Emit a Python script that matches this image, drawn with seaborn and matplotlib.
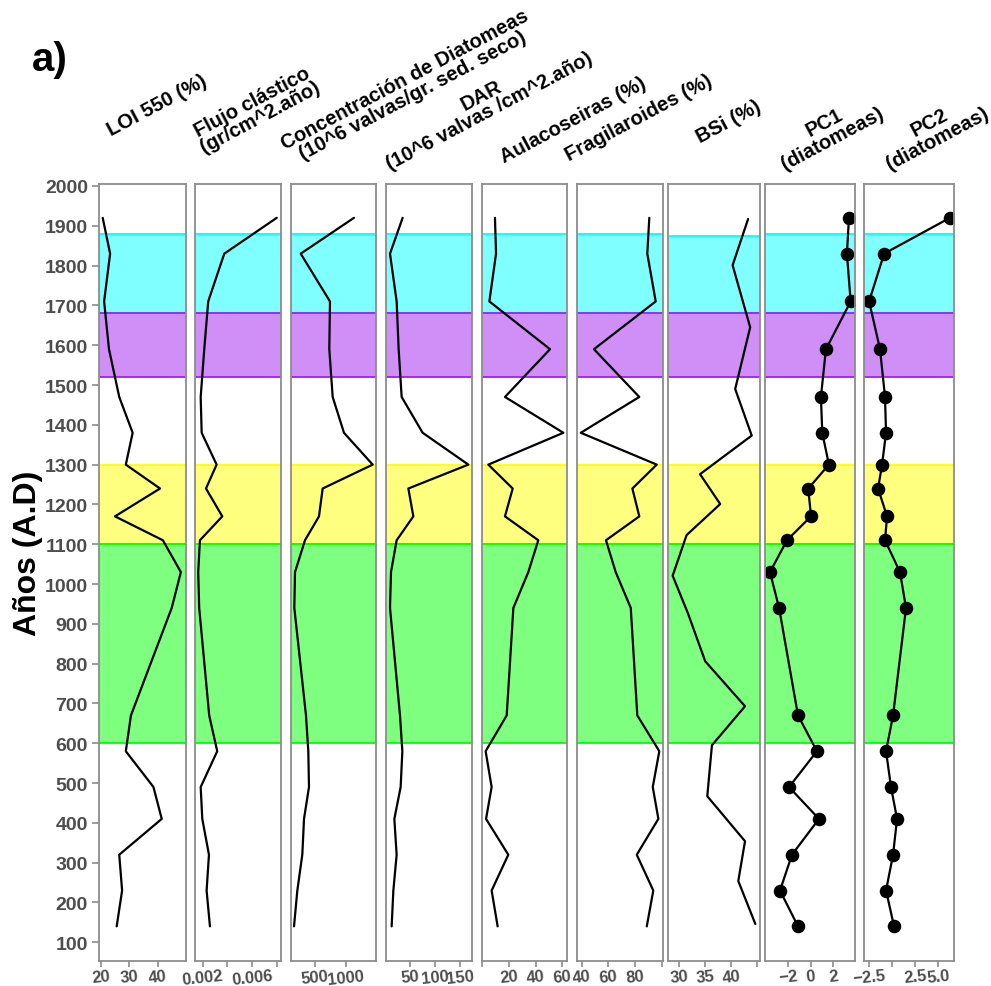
import matplotlib
matplotlib.use("Agg")
import matplotlib.pyplot as plt
import seaborn as sns

sns.set_theme(style="white")
plt.rcParams["font.family"] = ["Liberation Sans", "DejaVu Sans"]

# ---- data (years A.D. of each sample) ----
years = [1920, 1830, 1710, 1590, 1470, 1380, 1300, 1240, 1170, 1110,
         1030, 940, 670, 580, 490, 410, 320, 230, 140]

loi = [20.7, 23.3, 21.2, 22.9, 26.5, 31.2, 28.8, 40.8, 25.0, 41.8,
       48.1, 44.9, 30.6, 28.8, 38.5, 41.4, 26.5, 27.5, 25.6]
flujo = [0.0080, 0.00375, 0.00245, 0.00213, 0.00184, 0.00192, 0.00313, 0.00227,
         0.00359, 0.00178, 0.00164, 0.00172, 0.00253, 0.00318, 0.00184, 0.00197,
         0.00251, 0.00232, 0.00259]
conc = [1135, 267, 744, 733, 788, 972, 1440, 625, 565, 337,
        174, 163, 353, 391, 402, 321, 293, 212, 158]
dar = [35.3, 10.0, 23.3, 27.3, 33.3, 75.3, 166.7, 46.7, 56.7, 23.3,
       12.0, 10.0, 30.0, 34.7, 31.3, 18.7, 23.3, 16.7, 13.3]
aula = [9.5, 10.3, 5.3, 50.8, 17.0, 60.8, 4.5, 22.8, 17.0, 42.0,
        34.5, 23.3, 18.3, 2.5, 7.0, 2.8, 19.5, 7.0, 11.5]
frag = [90.7, 89.2, 95.5, 49.2, 83.2, 39.3, 96.3, 78.0, 83.2, 58.2,
        65.5, 76.8, 81.7, 98.2, 93.3, 97.5, 81.3, 93.7, 88.8]
pc1 = [3.36, 3.18, 3.51, 1.34, 0.90, 1.02, 1.60, -0.21, 0.03, -2.08,
       -3.57, -2.77, -1.11, 0.55, -1.90, 0.73, -1.64, -2.69, -1.11]
pc2 = [6.26, -0.86, -2.48, -1.30, -0.76, -0.65, -1.08, -1.51, -0.54, -0.76,
       0.86, 1.51, 0.11, -0.65, -0.11, 0.54, 0.11, -0.65, 0.22]

bsi_years = [1917, 1801, 1645, 1490, 1373, 1276, 1201, 1123, 1021,
             925, 806, 693, 595, 467, 354, 254, 146]
bsi = [43.3, 40.3, 43.7, 40.8, 44.0, 34.0, 37.9, 31.4, 28.7,
       31.7, 35.0, 42.7, 36.3, 35.4, 42.7, 41.4, 44.7]

titles = ["LOI 550 (%)",
          "Flujo clástico\n(gr/cm^2.año)",
          "Concentración de Diatomeas\n(10^6 valvas/gr. sed. seco)",
          "DAR\n(10^6 valvas /cm^2.año)",
          "Aulacoseiras (%)",
          "Fragilaroides (%)",
          "BSi (%)",
          "PC1\n(diatomeas)",
          "PC2\n(diatomeas)"]

x_ticks = [[20, 30, 40],
           [0.002, 0.004, 0.006, 0.008],
           [500, 1000],
           [50, 100, 150],
           [0, 20, 40, 60],
           [40, 60, 80, 100],
           [30, 35, 40, 45],
           [-2, 0, 2],
           [-2.5, 0, 2.5, 5.0]]
x_ticklabels = [["20", "30", "40"],
                ["0.002", "", "0.006", ""],
                ["500", "1000"],
                ["50", "100", "150"],
                ["", "20", "40", "60"],
                ["40", "60", "80", ""],
                ["30", "35", "40", ""],
                ["\u22122", "0", "2"],
                ["\u22122.5", "", "2.5", "5.0"]]

year_ticks = list(range(100, 2001, 100))

# climatic periods: (start, end, colour)
periods = [(1680, 1880, "#00FFFF"),
           (1520, 1680, "#A020F0"),
           (1100, 1300, "#FFFF00"),
           (600, 1100, "#00FF00")]
periods_bsi = [(1680, 1875, "#00FFFF"),
               (1520, 1680, "#A020F0"),
               (1100, 1300, "#FFFF00"),
               (600, 1100, "#00FF00")]

# ---- layout (pixels) ----
W, H = 991, 987
TOP, BOTTOM = 185, 962
panel_x = [(99, 185.7), (195, 280.7), (290.7, 376), (386, 472.3),
           (481.7, 567.3), (577.3, 662.7), (668, 760), (765.3, 855), (864.3, 954)]
x_limits = [(19.4, 49.8), (0.00138, 0.00832), (104, 1494), (2, 174.6),
            (-0.45, 63.75), (36.7, 100.75), (27.8, 45.6), (-3.98, 3.89), (-3.0, 6.7)]
title_centers = [(157, 106), (256, 110), (409, 88), (485, 104), (573, 121),
                 (639, 118), (729, 122), (828, 131), (933, 131)]

series = [(years, loi), (years, flujo), (years, conc), (years, dar),
          (years, aula), (years, frag), (bsi_years, bsi), (years, pc1), (years, pc2)]

frame_col = "#8c8c8c"
tick_col = "#4d4d4d"

fig = plt.figure(figsize=(W / 100, H / 100), dpi=100)

for i, ((xl, xr), (yrs, vals)) in enumerate(zip(panel_x, series)):
    ax = fig.add_axes([xl / W, (H - BOTTOM) / H, (xr - xl) / W, (BOTTOM - TOP) / H])
    ax.set_facecolor("white")
    bands = periods_bsi if i == 6 else periods
    for y0, y1, col in bands:
        ax.axhspan(y0, y1, facecolor=col, alpha=0.5, lw=0, zorder=0)
    for y0, y1, col in bands:
        ax.axhline(y0, color=col, lw=1.3, zorder=1)
        ax.axhline(y1, color=col, lw=1.3, zorder=1)

    sns.lineplot(x=vals, y=yrs, orient="y", estimator=None, color="black",
                 lw=1.6, ax=ax, zorder=3)
    if i >= 7:
        sns.scatterplot(x=vals, y=yrs, s=95, color="black", edgecolor="black",
                        linewidth=0, ax=ax, zorder=4)

    ax.set_xlim(*x_limits[i])
    ax.set_ylim(53, 2005)
    ax.set_xlabel("")
    ax.set_ylabel("")
    ax.set_xticks(x_ticks[i])
    ax.set_xticklabels(x_ticklabels[i], fontweight="bold", rotation=6)
    ax.tick_params(axis="x", direction="out", bottom=True, length=4, width=1.2,
                   color=frame_col, labelsize=12, labelcolor=tick_col, pad=1)
    if i == 0:
        ax.set_yticks(year_ticks)
        ax.set_yticklabels([str(y) for y in year_ticks], fontweight="bold")
        ax.tick_params(axis="y", direction="out", left=True, length=5, width=1.2,
                       color=frame_col, labelsize=14, labelcolor=tick_col, pad=3)
    else:
        ax.set_yticks([])
    for sp in ax.spines.values():
        sp.set_color(frame_col)
        sp.set_linewidth(1.3)
        sp.set_zorder(5)

    cx, cy = title_centers[i]
    fig.text(cx / W, 1 - cy / H, titles[i], rotation=28, rotation_mode="anchor",
             ha="center", va="center", multialignment="center",
             fontsize=14.5, fontweight="bold", color="black", linespacing=0.9)

fig.text(28 / W, 1 - 553 / H, "Años (A.D)", rotation=90, ha="center", va="center",
         fontsize=23, fontweight="bold", color="black")
fig.text(50 / W, 1 - 60 / H, "a)", ha="center", va="center",
         fontsize=29, fontweight="bold", color="black")

fig.savefig("out.png", dpi=100, facecolor="white")
